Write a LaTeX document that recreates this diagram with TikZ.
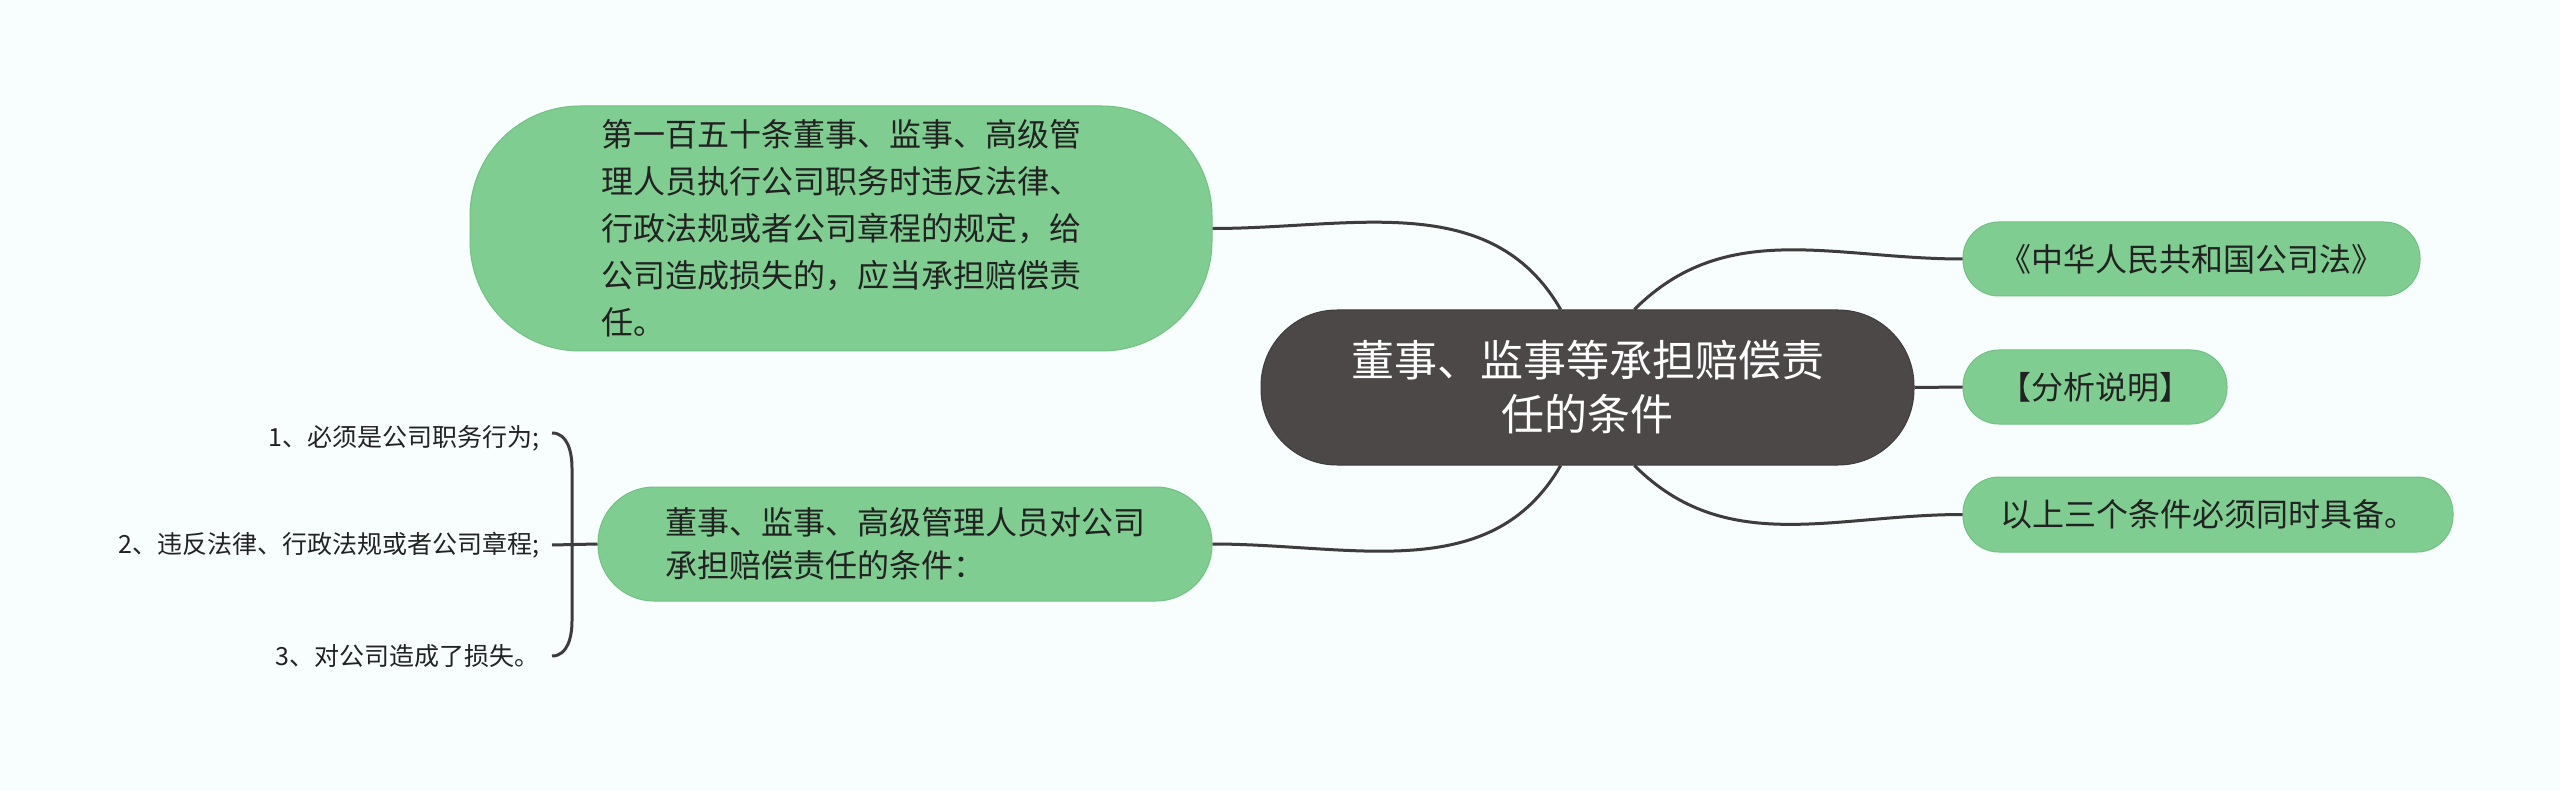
\documentclass[tikz,border=0pt]{standalone}
\usepackage{fontspec}
\newfontfamily\cjk{Noto Sans CJK SC}
\usepackage{tikz}
\usetikzlibrary{calc}
\definecolor{fondPage}{RGB}{248,253,253}
\definecolor{vertNoeud}{RGB}{128,205,145}
\definecolor{vertBord}{RGB}{114,192,132}
\definecolor{grisCentre}{RGB}{77,72,72}
\definecolor{grisTrait}{RGB}{62,60,60}
\definecolor{texteNoir}{RGB}{34,34,34}

\begin{document}
\begin{tikzpicture}[x=0.5pt, y=-0.5pt, font=\cjk,
  vert/.style={fill=vertNoeud, draw=vertBord, line width=0.5pt, text=texteNoir, inner sep=0pt,
               font=\cjk\fontsize{16}{23.5}\selectfont},
  centre/.style={fill=grisCentre, draw=grisTrait, line width=0.5pt, text=white, inner sep=0pt,
                 align=center, font=\cjk\fontsize{21.5}{27}\selectfont},
  feuille/.style={anchor=east, text=texteNoir, inner sep=0pt, font=\cjk\fontsize{12.5}{15}\selectfont},
  lien/.style={grisTrait, line width=1.5pt}]

\fill[fondPage] (0,0) rectangle (2560,791);
\useasboundingbox (0,0) rectangle (2560,791);

% centre
\node[centre, minimum width=326.5pt, minimum height=77.5pt, rounded corners=38pt] (main) at (1587.5,387.5)
  {董事、监事等承担赔偿责\\任的条件};

% gauche
\node[vert, minimum width=371pt, minimum height=122.5pt, rounded corners=55pt, align=left] (art) at (841,228.5)
  {第一百五十条董事、监事、高级管\\理人员执行公司职务时违反法律、\\行政法规或者公司章程的规定，给\\公司造成损失的，应当承担赔偿责\\任。};
\node[vert, minimum width=307pt, minimum height=57pt, rounded corners=28pt, align=left,
      font=\cjk\fontsize{16}{21.5}\selectfont] (cond) at (905,544)
  {董事、监事、高级管理人员对公司\\承担赔偿责任的条件：};

% droite
\node[vert, minimum width=228.5pt, minimum height=37pt, rounded corners=18pt] (loi) at (2191.5,259) {《中华人民共和国公司法》};
\node[vert, minimum width=132pt, minimum height=37pt, rounded corners=18pt] (analyse) at (2095,387) {【分析说明】};
\node[vert, minimum width=245pt, minimum height=37.5pt, rounded corners=18pt] (synthese) at (2208,514.5) {以上三个条件必须同时具备。};

% conditions
\node[feuille] (c1) at (540,438) {1、必须是公司职务行为;};
\node[feuille] (c2) at (540,545) {2、违反法律、行政法规或者公司章程;};
\node[feuille] (c3) at (540,656) {3、对公司造成了损失。};

\coordinate (accH) at (552,433);
\coordinate (accM) at (552,545);
\coordinate (accB) at (552,656);

\draw[lien] (accH) to[out=0,in=90] (572,468) -- (572,621) to[out=-90,in=0] (accB);
\draw[lien] (accM) -- (cond.west);

% liens
\draw[lien] (art.east) to[out=0,in=120] (main.109);
\draw[lien] (cond.east) to[out=0,in=-120] (main.-109);
\draw[lien] (main.59) to[out=45,in=180] (loi.west);
\draw[lien] (main.east) -- (analyse.west);
\draw[lien] (main.-59) to[out=-45,in=180] (synthese.west);

\end{tikzpicture}
\end{document}
